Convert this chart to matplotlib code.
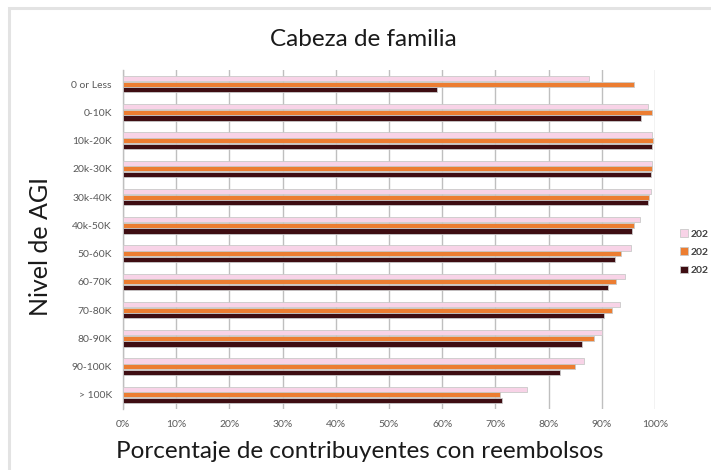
import matplotlib
matplotlib.use("Agg")
import matplotlib.pyplot as plt
import numpy as np
from matplotlib.patches import Rectangle

categories = ["0 or Less", "0-10K", "10k-20K", "20k-30K", "30k-40K", "40k-50K",
              "50-60K", "60-70K", "70-80K", "80-90K", "90-100K", "> 100K"]
series_labels = ["202", "202", "202"]
pink_vals = [87.5, 98.6, 99.5, 99.5, 99.2, 97.1, 95.4, 94.4, 93.4, 90.0, 86.7, 76.0]
orange_vals = [96.1, 99.4, 99.6, 99.4, 98.9, 96.1, 93.7, 92.7, 91.9, 88.5, 84.9, 70.8]
dark_vals = [59.0, 97.4, 99.4, 99.2, 98.7, 95.7, 92.5, 91.2, 90.5, 86.3, 82.2, 71.3]
xticks = [0, 10, 20, 30, 40, 50, 60, 70, 80, 90, 100]
xtick_labels = [f"{v}%" for v in xticks]

colors = ["#F8D3E7", "#EC7D31", "#3E0D12"]
series = [pink_vals, orange_vals, dark_vals]

W, H = 711, 470
fig = plt.figure(figsize=(W / 100, H / 100), dpi=100)
fig.patch.set_facecolor("white")

# figure border (only top and left visible)
fig.patches.append(Rectangle((9 / W, -0.1), 1.2, (1 - 8 / H) + 0.1,
                             transform=fig.transFigure, fill=False,
                             edgecolor="#E3E3E3", linewidth=2.2, zorder=0))

ax = fig.add_axes([123 / W, 1 - 409 / H, (655 - 123) / W, (409 - 70) / H])

y = np.arange(len(categories))
bh = 0.18
pitch = 0.2
offsets = [-pitch, 0, pitch]
for vals, c, off, lab in zip(series, colors, offsets, series_labels):
    ax.barh(y + off, vals, height=bh, color=c, edgecolor="#C9C9C9",
            linewidth=0.6, label=lab, zorder=3)

ax.set_xlim(0, 100)
ax.set_ylim(len(categories) - 0.5, -0.5)
ax.set_xticks(xticks)
ax.set_xticklabels(xtick_labels)
ax.set_yticks(y)
ax.set_yticklabels(categories)

ax.grid(axis="x", color="#BFBFBF", linewidth=1.0, zorder=0)
ax.set_axisbelow(True)
for s in ["top", "right", "bottom"]:
    ax.spines[s].set_visible(False)
ax.spines["left"].set_color("#BFBFBF")
ax.spines["left"].set_linewidth(1.0)
ax.tick_params(axis="both", length=0, labelsize=7.5, labelcolor="#595959",
               pad=8)
for lbl in ax.get_xticklabels() + ax.get_yticklabels():
    lbl.set_fontfamily("Lato")

fig.text(363 / W, 1 - 39 / H, "Cabeza de familia", ha="center", va="center",
         fontsize=17.5, family="Lato", color="#1a1a1a")
fig.text(360 / W, 1 - 451 / H, "Porcentaje de contribuyentes con reembolsos",
         ha="center", va="center", fontsize=17.5, family="Lato", color="#1a1a1a")
fig.text(41 / W, 1 - 246 / H, "Nivel de AGI", ha="center", va="center",
         rotation=90, fontsize=18, family="Lato", color="#1a1a1a")

leg = ax.legend(loc="upper left", bbox_to_anchor=(673 / W, 1 - 222 / H),
                bbox_transform=fig.transFigure, frameon=False,
                handlelength=0.7, handleheight=0.7, handletextpad=0.3,
                borderpad=0.2, labelspacing=0.85,
                prop={"family": "Lato", "size": 7.5, "weight": "bold"})
for t in leg.get_texts():
    t.set_color("#404040")

fig.savefig("out.png", dpi=100)
